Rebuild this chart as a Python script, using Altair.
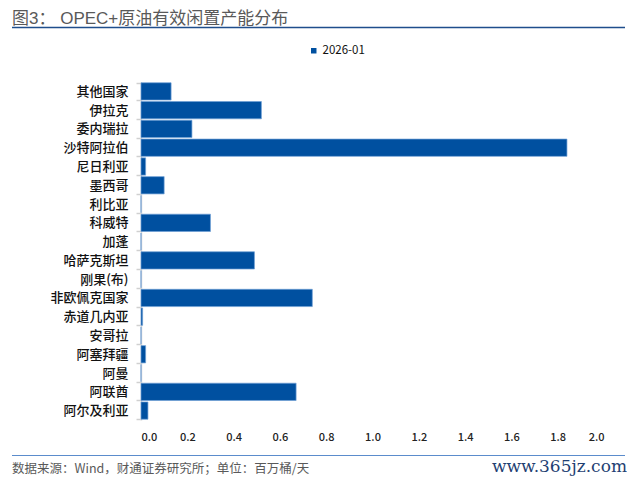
import altair as alt
import pandas as pd

categories = ["其他国家", "伊拉克", "委内瑞拉", "沙特阿拉伯", "尼日利亚", "墨西哥", "利比亚",
              "科威特", "加蓬", "哈萨克斯坦", "刚果(布)", "非欧佩克国家", "赤道几内亚", "安哥拉",
              "阿塞拜疆", "阿曼", "阿联酋", "阿尔及利亚"]
values = [0.13, 0.52, 0.22, 1.84, 0.02, 0.10, 0.0, 0.30, 0.0, 0.49, 0.0, 0.74, 0.007, 0.0,
          0.02, 0.0, 0.67, 0.03]
series_name = "2026-01"
x_ticks = [0.0, 0.2, 0.4, 0.6, 0.8, 1.0, 1.2, 1.4, 1.6, 1.8, 2.0]

title_text = "图3： OPEC+原油有效闲置产能分布"
source_text = "数据来源：Wind，财通证券研究所；单位：百万桶/天"
watermark_text = "www.365jz.com"

FONT = "Noto Sans CJK SC"
TITLE_FONT = "Liberation Sans, Noto Sans CJK SC"
W, H = 463, 338

df = pd.DataFrame({"country": categories, "value": values, "series": [series_name] * len(categories)})

bars = alt.Chart(df).mark_bar(stroke="#6f9fd6", strokeWidth=0.7).encode(
    x=alt.X("value:Q",
            scale=alt.Scale(domain=[0, 2.0], nice=False, zero=True),
            axis=alt.Axis(values=x_ticks, format=".1f", title=None, grid=False, domain=False,
                          ticks=False, tickSize=0, labelPadding=11, labelFontSize=11,
                          labelColor="#222222", labelFont=FONT, labelFontWeight=500)),
    y=alt.Y("country:N", sort=categories,
            scale=alt.Scale(paddingInner=0.08, paddingOuter=0.04),
            axis=alt.Axis(title=None, tickBand="extent", tickSize=5, tickColor="#d0d0d0",
                          tickWidth=1.5, domainColor="#d9d9d9", domainWidth=1.5,
                          labelPadding=8, labelFontSize=13, labelColor="#111111",
                          labelFont=FONT, labelFontWeight=500)),
    color=alt.Color("series:N", scale=alt.Scale(range=["#0050a0"]),
                    legend=alt.Legend(title=None, orient="none", legendX=167, legendY=-37,
                                      symbolType="square", symbolSize=30, symbolStrokeWidth=0,
                                      labelFontSize=11.5, labelFont=FONT, labelColor="#111111",
                                      padding=0, labelOffset=3)),
)

one = pd.DataFrame({"k": [0]})

title_mark = alt.Chart(pd.DataFrame({"t": [title_text]})).mark_text(
    align="left", baseline="alphabetic", fontSize=17, font=TITLE_FONT, color="#595959"
).encode(x=alt.value(-129), y=alt.value(-58.5), text="t:N")

top_line = alt.Chart(one).mark_rule(color="#1f4e8c", strokeWidth=1.5).encode(
    x=alt.value(-129), x2=alt.value(484), y=alt.value(-54.5))

bottom_line = alt.Chart(one).mark_rule(color="#5b8ccc", strokeWidth=1.2).encode(
    x=alt.value(-129), x2=alt.value(484), y=alt.value(373.5))

source_mark = alt.Chart(pd.DataFrame({"t": [source_text]})).mark_text(
    align="left", baseline="middle", fontSize=12.5, font=FONT, color="#595959"
).encode(x=alt.value(-129), y=alt.value(386.5), text="t:N")

wm_mark = alt.Chart(pd.DataFrame({"t": [watermark_text]})).mark_text(
    align="right", baseline="middle", fontSize=17, font="DejaVu Serif", color="#1f3f73"
).encode(x=alt.value(486), y=alt.value(385), text="t:N")

chart = alt.layer(bars, title_mark, top_line, bottom_line, source_mark, wm_mark).properties(
    width=W, height=H,
    autosize=alt.AutoSizeParams(type="none"),
    padding={"left": 133, "top": 74, "right": 23, "bottom": 56},
).configure(background="white").configure_view(strokeWidth=0, stroke="transparent")

chart.save("out.html", embed_options={"renderer": "svg", "actions": False})
